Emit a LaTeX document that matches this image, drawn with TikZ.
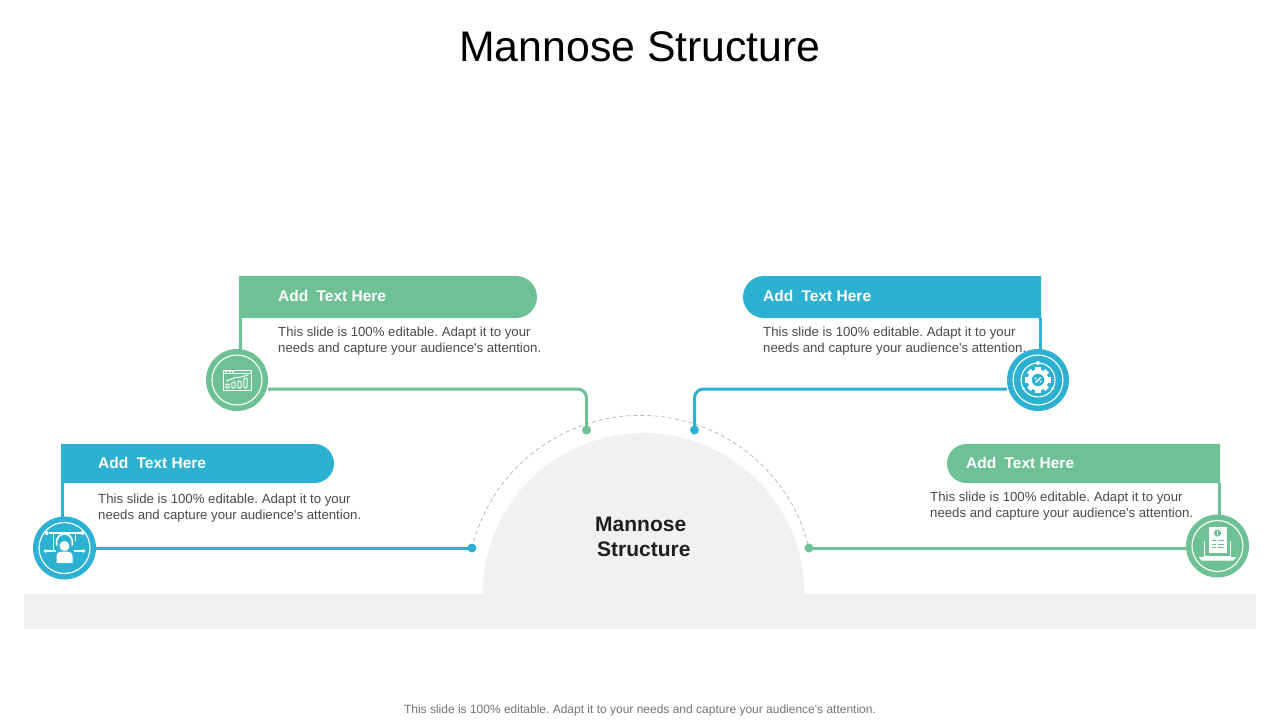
\documentclass[tikz,border=0pt]{standalone}
\usepackage{fontspec}
\setmainfont{Liberation Sans}[Ligatures=TeXOff]
\frenchspacing
\usetikzlibrary{shapes.misc}
\definecolor{grn}{HTML}{6DC195}
\definecolor{blu}{HTML}{2DB1D3}
\definecolor{pale}{HTML}{F1F1F1}
\definecolor{bodyc}{HTML}{4A4A4A}
\tikzset{
  x=1pt,y=-1pt,
  hdr/.style={rounded rectangle,minimum height=#1,inner sep=0pt,outer sep=0pt,draw=none},
  hdrtext/.style={anchor=base west,inner sep=0pt,text=white,font=\fontsize{15.5}{16}\selectfont\bfseries},
  bodytext/.style={anchor=west,inner sep=0pt,align=left,text=bodyc,font=\fontsize{13.2}{16}\selectfont},
  badge/.style={circle,inner sep=0pt,outer sep=0pt,minimum size=#1,draw=none},
  wire/.style={line width=3pt,rounded corners=9pt},
  stub/.style={line width=3pt},
  dotm/.style={circle,inner sep=0pt,outer sep=0pt,minimum size=9pt},
  icon/.style={draw=white,line width=1pt,fill=none},
  ring/.style={draw=white,line width=1.1pt,fill=none},
}
\begin{document}
\begin{tikzpicture}
\useasboundingbox (0,0) rectangle (1280,720);
% base and dome
\fill[pale] (24,594) rectangle (1256,629);
\fill[pale] (482.5,594) arc[start angle=180,end angle=360,radius=161];
\draw[draw=black!27,line width=0.8pt,dash pattern=on 4pt off 3pt] (472,548) arc[start angle=193.6,end angle=346.4,radius=173.4];
% title and footer
\node[anchor=base,inner sep=0pt,font=\fontsize{42.8}{44}\selectfont] (title) at (640,61) {Mannose Structure};
\node[anchor=base,inner sep=0pt,text=black!55,font=\fontsize{12}{12}\selectfont] (foot) at (640,713) {This slide is 100\% editable. Adapt it to your needs and capture your audience's attention.};
\node[anchor=west,inner sep=0pt,align=left,text=black!88,font=\fontsize{21}{25}\selectfont\bfseries] (centre) at (595,536.5) {Mannose\\\hspace{2pt}Structure};
% header bars
\node[hdr=42pt,rounded rectangle left arc=none,fill=grn,minimum width=298pt,anchor=west] (h1) at (239,297) {};
\node[hdr=42pt,rounded rectangle right arc=none,fill=blu,minimum width=298pt,anchor=west] (h2) at (743,297) {};
\node[hdr=39pt,rounded rectangle left arc=none,fill=blu,minimum width=273pt,anchor=west] (h3) at (61,463.5) {};
\node[hdr=39pt,rounded rectangle right arc=none,fill=grn,minimum width=273pt,anchor=west] (h4) at (947,463.5) {};
\node[hdrtext] (t1) at (278,301.5) {Add\hspace{4pt} Text Here};
\node[hdrtext] (t2) at (763,301.5) {Add\hspace{4pt} Text Here};
\node[hdrtext] (t3) at (98,468.5) {Add\hspace{4pt} Text Here};
\node[hdrtext] (t4) at (966,468.5) {Add\hspace{4pt} Text Here};
\node[bodytext] (b1) at (278,341) {This slide is 100\% editable. Adapt it to your\\needs and capture your audience's attention.};
\node[bodytext] (b2) at (763,341) {This slide is 100\% editable. Adapt it to your\\needs and capture your audience's attention.};
\node[bodytext] (b3) at (98,508) {This slide is 100\% editable. Adapt it to your\\needs and capture your audience's attention.};
\node[bodytext] (b4) at (930,506) {This slide is 100\% editable. Adapt it to your\\needs and capture your audience's attention.};
% end dots
\node[dotm,fill=grn] (d1) at (586.5,430) {};
\node[dotm,fill=blu] (d2) at (694.5,430) {};
\node[dotm,fill=blu] (d3) at (472,548) {};
\node[dotm,fill=grn] (d4) at (809,548) {};
% badges
\node[badge=62pt,fill=grn] (c1) at (237,380) {};
\node[badge=62pt,fill=blu] (c2) at (1038,380) {};
\node[badge=63pt,fill=blu] (c3) at (64.5,548) {};
\node[badge=63pt,fill=grn] (c4) at (1217.5,546) {};
% connectors
\draw[wire,draw=grn] (c1.east |- 0,389) -- (d1.center |- 0,389) -- (d1.center);
\draw[wire,draw=blu] (c2.west |- 0,389) -- (d2.center |- 0,389) -- (d2.center);
\draw[stub,draw=blu] (c3.east |- d3.center) -- (d3.center);
\draw[stub,draw=grn] (c4.west |- d4.center) -- (d4.center);
\draw[stub,draw=grn] (240.5,318) -- (240.5,350);
\draw[stub,draw=blu] (1040,318) -- (1040,350);
\draw[stub,draw=blu] (62.5,483) -- (62.5,517);
\draw[stub,draw=grn] (1219,483) -- (1219,515);
% rings
\draw[ring] (c1.center) circle[radius=25];
\draw[ring] (c2.center) circle[radius=25];
\draw[ring] (c3.center) circle[radius=25.5];
\draw[ring] (c4.center) circle[radius=25.5];
% icon 1: browser window with chart
\begin{scope}[shift={(c1.center)}]
\draw[icon] (-14,-10) rectangle (14,10);
\draw[icon] (-14,-6.5) -- (14,-6.5);
\fill[white] (-12,-9) rectangle (-10,-7.6) (-8.5,-9) rectangle (-6.5,-7.6) (-5,-9) rectangle (-3,-7.6);
\draw[icon] (-11,1) -- (-3,-2) -- (4,-3) -- (11,-5);
\foreach \x/\h in {-9.5/4,-3.5/6,2.5/7,8.5/10}{\draw[icon,rounded corners=1pt] (\x-1.6,8) rectangle (\x+1.6,8-\h);}
\end{scope}
% icon 2: gear
\begin{scope}[shift={(c2.center)}]
\draw[ring] (0,0) circle[radius=17];
\foreach \a in {0,45,...,315}{\fill[white,rotate=\a] (-2.6,-13) rectangle (2.6,-7);}
\fill[white] (0,0) circle[radius=10.5];
\fill[blu] (0,0) circle[radius=6.2];
\draw[white,line width=1.4pt] (-2.5,2.5) -- (2.5,-2.5);
\fill[white] (-2.6,-1.6) circle[radius=1] (2.6,1.6) circle[radius=1];
\fill[white] (0,-17) circle[radius=2] (14.7,8.5) circle[radius=1.6] (-14.7,8.5) circle[radius=1.6];
\end{scope}
% icon 3: person with arrows
\begin{scope}[shift={(c3.center)}]
\draw[white,line width=1.5pt] (-16,-15) -- (16,-15);
\draw[white,line width=1.5pt] (-18,3) -- (-9,3) (9,3) -- (18,3);
\draw[white,line width=1.5pt] (-11,-14) -- (-11,3) (11,-14) -- (11,-7);
\fill[white] (-18,-15) circle[radius=2] (18,-15) circle[radius=2] (-19,3) circle[radius=1.8] (19,3) circle[radius=1.8];
\draw[white,line width=1.6pt] (0,-6) circle[radius=8];
\fill[blu] (0,-1) circle[radius=7.5];
\fill[white] (0,-2) circle[radius=5];
\fill[white] (-8,15) -- (-8,8) .. controls (-8,4) and (-4,3.5) .. (0,3.5) .. controls (4,3.5) and (8,4) .. (8,8) -- (8,15) -- cycle;
\end{scope}
% icon 4: laptop with document
\begin{scope}[shift={(c4.center)}]
\draw[icon] (-13,-5) -- (-13,10) -- (13,10) -- (13,-5);
\fill[white] (-19,11) -- (19,11) -- (16,14.5) -- (-16,14.5) -- cycle;
\fill[white] (-9,-19) rectangle (9,7);
\fill[grn] (0,-13) circle[radius=3.6];
\fill[white] (-0.8,-15) rectangle (0.8,-11);
\draw[grn,line width=1pt] (-6,-5.5) -- (-2,-5.5) (0,-5.5) -- (6,-5.5) (-6,-2) -- (-2,-2) (0,-2) -- (6,-2) (-6,1.5) -- (-2,1.5) (0,1.5) -- (6,1.5);
\end{scope}
\end{tikzpicture}
\end{document}
